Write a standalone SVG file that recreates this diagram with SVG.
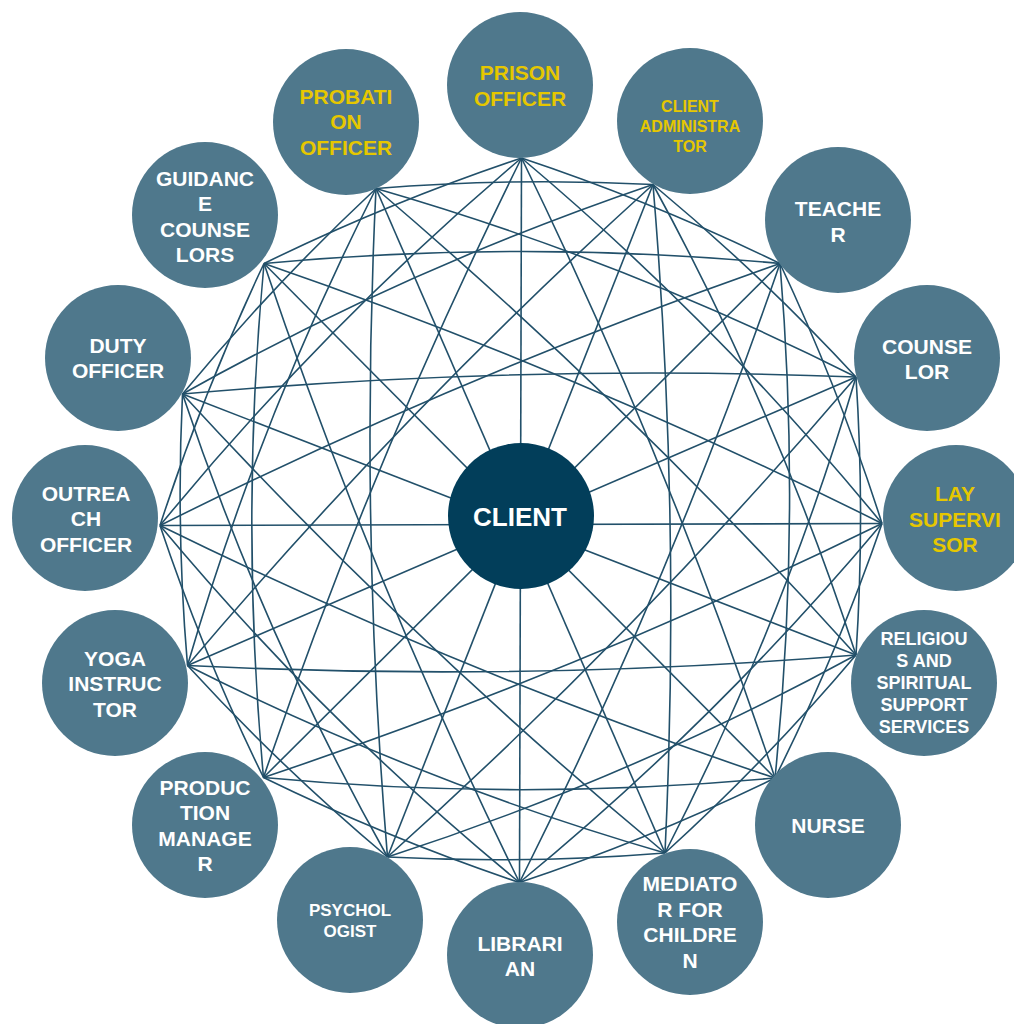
<svg xmlns="http://www.w3.org/2000/svg" width="1014" height="1024" viewBox="0 0 1014 1024">
  <style>
    .bg { fill: #ffffff; }
    .link { fill: none; stroke: #22506a; stroke-width: 1.6; }
    .role { fill: #4f788c; }
    .hub { fill: #023e5a; }
    .lbl { font-family: "Liberation Sans", Arial, sans-serif; font-weight: bold; font-size: 21px; fill: #ffffff; text-anchor: middle; }
    .sm { font-size: 16px; }
    .ps { font-size: 17px; }
    .md { font-size: 18px; }
    .gold { fill: #e6c700; }
    .hubtxt { font-size: 26px; }
  </style>
  <rect class="bg" x="0" y="0" width="1014" height="1024"/>

  <!-- two interleaved octagon meshes; coordinates relative to the hub -->
  <g id="connectors" class="link" transform="translate(520.5 521.5)">
    <!-- mesh A: PRISON OFFICER, TEACHER, LAY SUPERVISOR, NURSE, LIBRARIAN, PRODUCTION MANAGER, OUTREACH OFFICER, GUIDANCE COUNSELORS -->
    <path d="M1 -363.5 Q133.8 -319.2 259.5 -258"/>
    <path d="M1 -363.5 Q198.1 -197.6 361.5 2"/>
    <path d="M1 -363.5 Q148.1 -62 254.5 256.5"/>
    <path d="M1 -363.5 L-1 361"/>
    <path d="M1 -363.5 Q-148.4 -62.3 -257 256"/>
    <path d="M1 -363.5 Q-196.5 -196.5 -360.5 4"/>
    <path d="M1 -363.5 Q-131.2 -319.2 -256.5 -258"/>
    <path d="M259.5 -258 Q318.9 -131.5 361.5 2"/>
    <path d="M259.5 -258 Q280.9 -0.8 254.5 256.5"/>
    <path d="M259.5 -258 Q149.8 59.7 -1 361"/>
    <path d="M259.5 -258 L-257 256"/>
    <path d="M259.5 -258 Q-58.5 -147.2 -360.5 4"/>
    <path d="M259.5 -258 Q1.6 -282 -256.5 -258"/>
    <path d="M361.5 2 Q316.4 132.8 254.5 256.5"/>
    <path d="M361.5 2 Q197 198.4 -1 361"/>
    <path d="M361.5 2 Q60.6 149.5 -257 256"/>
    <path d="M361.5 2 L-360.5 4"/>
    <path d="M361.5 2 Q60.8 -148.4 -256.5 -258"/>
    <path d="M254.5 256.5 Q130.2 317.1 -1 361"/>
    <path d="M254.5 256.5 Q-1.4 280.1 -257 256"/>
    <path d="M254.5 256.5 Q-61.4 151 -360.5 4"/>
    <path d="M254.5 256.5 L-256.5 -258"/>
    <path d="M-1 361 Q-132.5 316.9 -257 256"/>
    <path d="M-1 361 Q-197.6 199.5 -360.5 4"/>
    <path d="M-1 361 Q-149.2 59.7 -256.5 -258"/>
    <path d="M-257 256 Q-317.1 133.5 -360.5 4"/>
    <path d="M-257 256 Q-280.6 -1.1 -256.5 -258"/>
    <path d="M-360.5 4 Q-316.9 -130.5 -256.5 -258"/>
    <!-- mesh B: CLIENT ADMINISTRATOR, COUNSELOR, RELIGIOUS..., MEDIATOR, PSYCHOLOGIST, YOGA INSTRUCTOR, DUTY OFFICER, PROBATION OFFICER -->
    <path d="M132.5 -337 Q240.4 -247.3 335.5 -144.5"/>
    <path d="M132.5 -337 Q255.8 -111.2 335.5 133.5"/>
    <path d="M132.5 -337 Q160.5 -3.2 144.5 331.5"/>
    <path d="M132.5 -337 L-133 335.5"/>
    <path d="M132.5 -337 Q-116.2 -111.8 -333 144"/>
    <path d="M132.5 -337 Q-112.3 -253.8 -338 -127.5"/>
    <path d="M132.5 -337 Q-6.2 -344.1 -144.5 -333"/>
    <path d="M335.5 -144.5 Q344.6 -5.6 335.5 133.5"/>
    <path d="M335.5 -144.5 Q262.3 102.2 144.5 331.5"/>
    <path d="M335.5 -144.5 Q117.3 110.7 -133 335.5"/>
    <path d="M335.5 -144.5 L-333 144"/>
    <path d="M335.5 -144.5 Q-1.4 -157.6 -338 -127.5"/>
    <path d="M335.5 -144.5 Q104.4 -261 -144.5 -333"/>
    <path d="M335.5 133.5 Q246.5 238.8 144.5 331.5"/>
    <path d="M335.5 133.5 Q110.7 256.3 -133 335.5"/>
    <path d="M335.5 133.5 Q1.4 160.8 -333 144"/>
    <path d="M335.5 133.5 L-338 -127.5"/>
    <path d="M335.5 133.5 Q110.7 -115.6 -144.5 -333"/>
    <path d="M144.5 331.5 Q5.9 342.6 -133 335.5"/>
    <path d="M144.5 331.5 Q-103 259.9 -333 144"/>
    <path d="M144.5 331.5 Q-112.1 118.2 -338 -127.5"/>
    <path d="M144.5 331.5 L-144.5 -333"/>
    <path d="M-133 335.5 Q-239.3 246.3 -333 144"/>
    <path d="M-133 335.5 Q-257.4 113.7 -338 -127.5"/>
    <path d="M-133 335.5 Q-160.8 1.4 -144.5 -333"/>
    <path d="M-333 144 Q-344.6 8.5 -338 -127.5"/>
    <path d="M-333 144 Q-261 -103.3 -144.5 -333"/>
    <path d="M-338 -127.5 Q-247.8 -236.5 -144.5 -333"/>
  </g>

  <g id="prison-officer">
    <circle class="role" cx="520" cy="85" r="73"/>
    <text class="lbl gold" x="520" y="80">PRISON</text>
    <text class="lbl gold" x="520" y="105.5">OFFICER</text>
  </g>
  <g id="client-administrator">
    <circle class="role" cx="690" cy="121" r="73"/>
    <text class="lbl sm gold" x="690" y="111.5">CLIENT</text>
    <text class="lbl sm gold" x="690" y="131.5">ADMINISTRA</text>
    <text class="lbl sm gold" x="690" y="151.5">TOR</text>
  </g>
  <g id="teacher">
    <circle class="role" cx="838" cy="220" r="73"/>
    <text class="lbl" x="838" y="216">TEACHE</text>
    <text class="lbl" x="838" y="241.5">R</text>
  </g>
  <g id="counselor">
    <circle class="role" cx="927" cy="358" r="73"/>
    <text class="lbl" x="927" y="353.5">COUNSE</text>
    <text class="lbl" x="927" y="379">LOR</text>
  </g>
  <g id="lay-supervisor">
    <circle class="role" cx="956" cy="518" r="73"/>
    <text class="lbl gold" x="955" y="501">LAY</text>
    <text class="lbl gold" x="955" y="526.5">SUPERVI</text>
    <text class="lbl gold" x="955" y="552">SOR</text>
  </g>
  <g id="religious-spiritual-support">
    <circle class="role" cx="924" cy="683" r="73"/>
    <text class="lbl md" x="924" y="644.8">RELIGIOU</text>
    <text class="lbl md" x="924" y="666.9">S AND</text>
    <text class="lbl md" x="924" y="689">SPIRITUAL</text>
    <text class="lbl md" x="924" y="711.1">SUPPORT</text>
    <text class="lbl md" x="924" y="733.2">SERVICES</text>
  </g>
  <g id="nurse">
    <circle class="role" cx="828" cy="825" r="73"/>
    <text class="lbl" x="828" y="832.5">NURSE</text>
  </g>
  <g id="mediator-for-children">
    <circle class="role" cx="690" cy="922" r="73"/>
    <text class="lbl" x="690" y="891.3">MEDIATO</text>
    <text class="lbl" x="690" y="916.8">R FOR</text>
    <text class="lbl" x="690" y="942.3">CHILDRE</text>
    <text class="lbl" x="690" y="967.8">N</text>
  </g>
  <g id="librarian">
    <circle class="role" cx="520" cy="955" r="73"/>
    <text class="lbl" x="520" y="950.5">LIBRARI</text>
    <text class="lbl" x="520" y="975.5">AN</text>
  </g>
  <g id="psychologist">
    <circle class="role" cx="350" cy="920" r="73"/>
    <text class="lbl ps" x="350" y="916">PSYCHOL</text>
    <text class="lbl ps" x="350" y="937">OGIST</text>
  </g>
  <g id="production-manager">
    <circle class="role" cx="205" cy="825" r="73"/>
    <text class="lbl" x="205" y="794.5">PRODUC</text>
    <text class="lbl" x="205" y="820">TION</text>
    <text class="lbl" x="205" y="845.5">MANAGE</text>
    <text class="lbl" x="205" y="871">R</text>
  </g>
  <g id="yoga-instructor">
    <circle class="role" cx="115" cy="683" r="73"/>
    <text class="lbl" x="115" y="665.7">YOGA</text>
    <text class="lbl" x="115" y="691.2">INSTRUC</text>
    <text class="lbl" x="115" y="716.7">TOR</text>
  </g>
  <g id="outreach-officer">
    <circle class="role" cx="85" cy="518" r="73"/>
    <text class="lbl" x="86" y="500.5">OUTREA</text>
    <text class="lbl" x="86" y="526">CH</text>
    <text class="lbl" x="86" y="551.5">OFFICER</text>
  </g>
  <g id="duty-officer">
    <circle class="role" cx="118" cy="358" r="73"/>
    <text class="lbl" x="118" y="352.5">DUTY</text>
    <text class="lbl" x="118" y="378">OFFICER</text>
  </g>
  <g id="guidance-counselors">
    <circle class="role" cx="205" cy="215" r="73"/>
    <text class="lbl" x="205" y="185.5">GUIDANC</text>
    <text class="lbl" x="205" y="211">E</text>
    <text class="lbl" x="205" y="236.5">COUNSE</text>
    <text class="lbl" x="205" y="262">LORS</text>
  </g>
  <g id="probation-officer">
    <circle class="role" cx="346" cy="122" r="73"/>
    <text class="lbl gold" x="346" y="103.5">PROBATI</text>
    <text class="lbl gold" x="346" y="129">ON</text>
    <text class="lbl gold" x="346" y="154.5">OFFICER</text>
  </g>

  <g id="client">
    <circle class="hub" cx="521" cy="516" r="73"/>
    <text class="lbl hubtxt" x="520" y="526">CLIENT</text>
  </g>
</svg>
